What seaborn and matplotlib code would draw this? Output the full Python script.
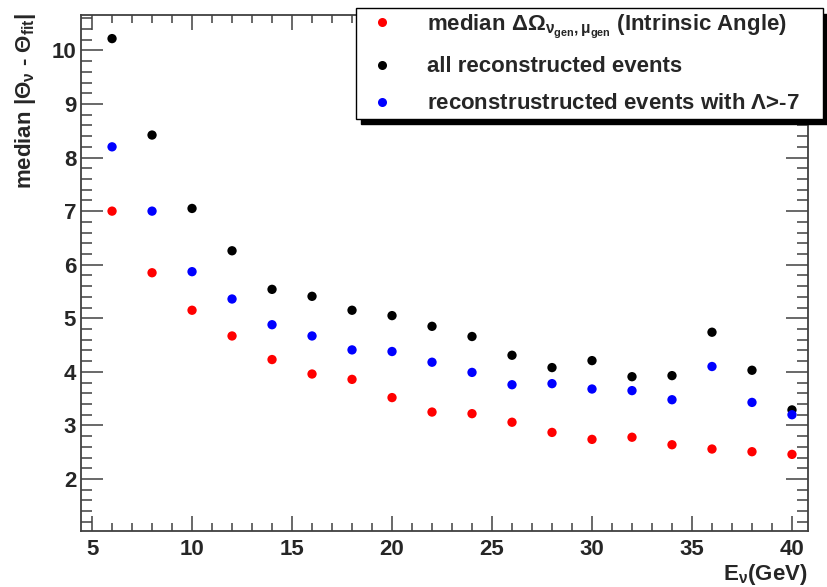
import numpy as np
import pandas as pd
import matplotlib
matplotlib.use('Agg')
import matplotlib.pyplot as plt
import seaborn as sns

energy = [6, 8, 10, 12, 14, 16, 18, 20, 22, 24, 26, 28, 30, 32, 34, 36, 38, 40]
intrinsic = [7.00, 5.85, 5.15, 4.67, 4.23, 3.96, 3.86, 3.52, 3.25, 3.22,
             3.06, 2.87, 2.74, 2.78, 2.64, 2.56, 2.51, 2.46]
all_reco = [10.22, 8.42, 7.05, 6.26, 5.54, 5.41, 5.15, 5.05, 4.85, 4.66,
            4.31, 4.08, 4.21, 3.91, 3.93, 4.74, 4.03, 3.29]
lambda_cut = [8.20, 7.00, 5.87, 5.36, 4.88, 4.67, 4.41, 4.38, 4.18, 3.99,
              3.76, 3.78, 3.68, 3.65, 3.48, 4.10, 3.43, 3.20]

labels = [r'median $\Delta\Omega_{\nu_{gen},\mu_{gen}}$ (Intrinsic Angle)',
          'all reconstructed events',
          r'reconstrustructed events with $\Lambda$>-7']
colors = ['#ff0000', '#000000', '#0000ff']

df = pd.DataFrame({
    'E': energy * 3,
    'val': intrinsic + all_reco + lambda_cut,
    'serie': [labels[0]] * len(energy) + [labels[1]] * len(energy) + [labels[2]] * len(energy),
})

sns.set_style('ticks')
plt.rcParams['font.family'] = ['Liberation Sans', 'DejaVu Sans']
plt.rcParams['font.weight'] = 'bold'
plt.rcParams['mathtext.fontset'] = 'custom'
plt.rcParams['mathtext.rm'] = 'Liberation Sans:bold'
plt.rcParams['mathtext.it'] = 'Liberation Sans:bold'
plt.rcParams['mathtext.bf'] = 'Liberation Sans:bold'

fig = plt.figure(figsize=(8.27, 5.87), dpi=100)
ax = fig.add_axes([0.098, 0.0954, 0.879, 0.879])

sns.scatterplot(data=df, x='E', y='val', hue='serie', palette=colors,
                hue_order=labels, s=45, edgecolor='none', ax=ax, legend=False)

ax.set_xlim(4.45, 40.8)
ax.set_ylim(1.03, 10.66)
ax.set_xticks([5, 10, 15, 20, 25, 30, 35, 40])
ax.set_xticks(np.arange(5, 41, 1), minor=True)
ax.set_yticks(range(2, 11))
ax.set_yticks(np.arange(1.2, 10.7, 0.2), minor=True)

edge = '#404040'
for sp in ax.spines.values():
    sp.set_color(edge)
    sp.set_linewidth(1.3)
ax.tick_params(axis='both', which='both', direction='in', top=True, right=True,
               color=edge, width=1.1, labelsize=16)
ax.tick_params(axis='y', which='major', length=16)
ax.tick_params(axis='y', which='minor', length=8)
ax.tick_params(axis='x', which='major', length=11)
ax.tick_params(axis='x', which='minor', length=5.5)
ax.tick_params(axis='x', pad=6)
for t in ax.get_xticklabels() + ax.get_yticklabels():
    t.set_fontweight('bold')

ax.set_xlabel(r'E$_{\nu}$(GeV)', fontsize=16, fontweight='bold')
ax.xaxis.label.set_ha('right')
ax.xaxis.label.set_va('top')
ax.xaxis.set_label_coords(1.0, -0.061)
ax.set_ylabel(r'median |$\Theta_{\nu}$ - $\Theta_{fit}$|', fontsize=16, fontweight='bold')
ax.yaxis.label.set_ha('right')
ax.yaxis.label.set_va('center')
ax.yaxis.set_label_coords(-0.077, 1.004)

handles = [plt.Line2D([], [], ls='none', marker='o', ms=6.5, mfc=c, mec='none')
           for c in colors]
leg = ax.legend(handles, labels, loc='upper left', bbox_to_anchor=(0.43, 0.799, 0.565, 0.187),
                bbox_transform=fig.transFigure, mode='expand', fancybox=False,
                shadow={'ox': 4, 'oy': -4, 'color': 'black', 'alpha': 1},
                frameon=True, prop={'size': 16, 'weight': 'bold'},
                handletextpad=1.0, borderpad=0.2, labelspacing=0.72, borderaxespad=0)
leg.get_frame().set_edgecolor('black')
leg.get_frame().set_linewidth(1.0)
leg.get_frame().set_alpha(1)

fig.savefig('out.png', dpi=100)
